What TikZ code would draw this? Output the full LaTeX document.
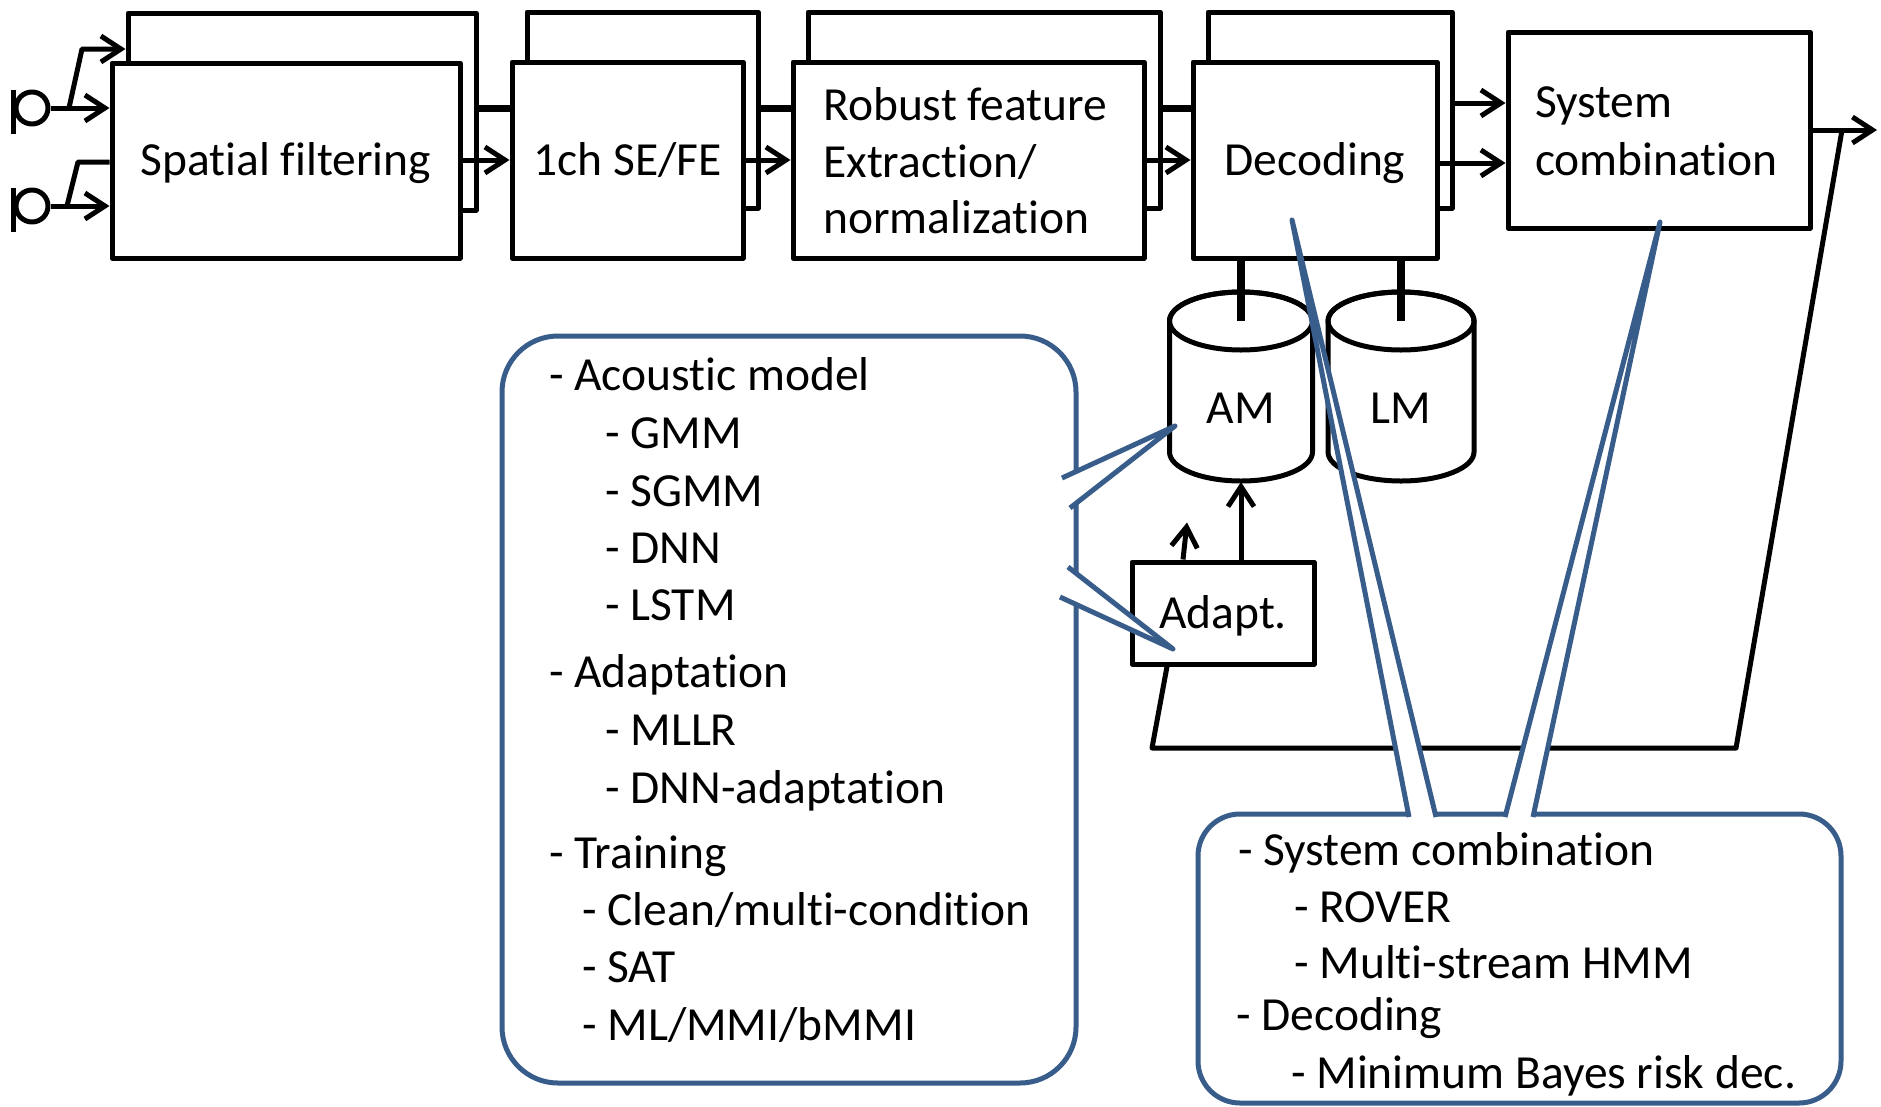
\documentclass[tikz,border=0pt]{standalone}
\usepackage{fontspec}
\setmainfont{Carlito}[Ligatures=CommonOff]
\usetikzlibrary{arrows.meta,calc}
\definecolor{callout}{HTML}{385D8A}
\begin{document}
\begin{tikzpicture}[x=1pt,y=-1pt,line join=round,
  every node/.style={font=\fontsize{47.5pt}{57pt}\selectfont},
  blk/.style={draw,line width=5pt,fill=white,inner sep=0pt,text height=30pt,text depth=0pt},
  ln/.style={line width=5pt},
  fat/.style={line width=7pt},
  arr/.style={line width=5pt,-{Straight Barb[length=20pt,width=26pt]}},
  txt/.style={inner sep=0pt},
  mic/.style={circle,draw,line width=5pt,minimum size=32pt,inner sep=0pt},
  cbox/.style={draw=callout,line width=5pt,fill=white,inner sep=0pt},
  wedge/.style={draw=callout,line width=5pt,line join=round}
]
\useasboundingbox (0,0) rectangle (1881,1106);
\fill[white] (0,0) rectangle (1881,1106);

% levels of the stage-to-stage links
\coordinate (hiA) at (0,108);
\coordinate (loA) at (0,160);
\coordinate (hiB) at (0,103);
\coordinate (loB) at (0,163);

% rear copies of the processing stages
\node[blk,minimum width=348pt,minimum height=197pt] (sfb) at (302,111.5) {};
\node[blk,minimum width=231pt,minimum height=196pt] (chb) at (642.5,110) {};
\node[blk,minimum width=352pt,minimum height=196pt] (rfb) at (984,110) {};
\node[blk,minimum width=244pt,minimum height=196pt] (decb) at (1330,110) {};

% links between the rear copies
\draw[fat] (sfb.east |- hiA) -- (chb.west |- hiA);
\draw[fat] (chb.east |- hiA) -- (rfb.west |- hiA);
\draw[fat] (rfb.east |- hiA) -- (decb.west |- hiA);

% front stages
\node[blk,minimum width=348pt,minimum height=195pt] (sff) at (286,160.5) {Spatial filtering};
\node[blk,minimum width=231pt,minimum height=196pt] (chf) at (627.5,160) {1ch SE/FE};
\node[blk,minimum width=351pt,minimum height=196pt] (rff) at (968.5,160) {};
\node[txt,anchor=base west] (rf1) at (823,120) {Robust feature};
\node[txt,anchor=base west] (rf2) at (823,177) {Extraction/};
\node[txt,anchor=base west] (rf3) at (823,233) {normalization};
\node[blk,minimum width=244pt,minimum height=196pt] (decf) at (1315,160) {Decoding};
\node[blk,minimum width=302pt,minimum height=196pt] (sc) at (1659,130) {};
\node[txt,anchor=base west] (sc1) at (1535,117) {System};
\node[txt,anchor=base west] (sc2) at (1535,175) {combination};

% microphones
\node[mic] (mic1) at (32,108) {};
\node[mic] (mic2) at (32,206) {};
\draw[ln] (mic1.west |- mic1.north) -- ++(0,44);
\draw[ln] (mic2.west |- mic2.north) -- ++(0,44);
\draw[arr] (mic1.east) -- (mic1.east -| sff.west);
\draw[arr] (mic2.east) -- (mic2.east -| sff.west);
\coordinate (k1a) at (69,108);
\coordinate (k1b) at (82,49);
\draw[arr] (k1a) -- (k1b) -- (k1b -| sfb.west);
\coordinate (k2a) at (67,206);
\coordinate (k2b) at (78,162);
\draw[ln] (k2a) -- (k2b) -- (k2b -| sff.west);

% links between the front stages
\draw[arr] (sff.east |- loA) -- (chf.west |- loA);
\draw[arr] (chf.east |- loA) -- (rff.west |- loA);
\draw[arr] (rff.east |- loA) -- (decf.west |- loA);
\draw[arr] (decb.east |- hiB) -- (sc.west |- hiB);
\draw[arr] (decf.east |- loB) -- (sc.west |- loB);
\coordinate (out) at (1877,130);
\draw[arr] (sc.east) -- (out);

% model stores
\filldraw[fill=white,ln] (1169.5,321) -- (1169.5,452)
  arc[start angle=180,end angle=0,x radius=71.5,y radius=29] -- (1312.5,321)
  arc[start angle=0,end angle=-180,x radius=71.5,y radius=29] -- cycle;
\draw[ln] (1241,321) ellipse[x radius=71.5,y radius=29];
\filldraw[fill=white,ln] (1328,321) -- (1328,452)
  arc[start angle=180,end angle=0,x radius=73,y radius=29] -- (1474,321)
  arc[start angle=0,end angle=-180,x radius=73,y radius=29] -- cycle;
\draw[ln] (1401,321) ellipse[x radius=73,y radius=29];
\node[txt,anchor=base] (am) at (1241,423) {AM};
\node[txt,anchor=base] (lm) at (1401,423) {LM};
\coordinate (amtop) at (1241,321);
\coordinate (lmtop) at (1401,321);
\coordinate (amb) at (1241,482);
\draw[line width=8pt] (decf.south -| amtop) -- (amtop);
\draw[line width=8pt] (decf.south -| lmtop) -- (lmtop);

% adaptation
\node[blk,minimum width=182pt,minimum height=102pt] (adapt) at (1223,613) {Adapt.};
\draw[arr] (adapt.north -| amb) -- (amb);
\draw[arr] ([xshift=-40pt]adapt.north) -- ++(4,-37);

% feedback from the combined output
\coordinate (fb1) at (1842,130);
\coordinate (fb2) at (1736,748);
\coordinate (fb3) at (1152,748);
\draw[ln] (fb1) -- (fb2) -- (fb3) -- ([xshift=-56pt]adapt.south);

% left note
\node[cbox,rounded corners=56pt,minimum width=574pt,minimum height=747pt] (lbox) at (789,709.5) {};
\foreach \yy/\xx/\itm [count=\i] in {390/549/Acoustic model,448/605/GMM,506/605/SGMM,
    563/605/DNN,620/605/LSTM,687/549/Adaptation,745/605/MLLR,803/605/DNN-adaptation,
    868/549/Training,925/582/{Clean/multi-condition},982/582/SAT,1040/582/{ML/MMI/bMMI}}
  \node[txt,anchor=base west] (la\i) at (\xx,\yy) {- \itm};
\coordinate (t1) at (1175,426);
\coordinate (t2) at (1173,649);
\fill[white] (1062,478) -- (t1) -- (1070,508) -- cycle;
\draw[wedge] (1062,478) -- (t1) -- (1070,508);
\fill[white] (1068,567) -- (t2) -- (1060,597) -- cycle;
\draw[wedge] (1068,567) -- (t2) -- (1060,597);

% right note
\node[cbox,rounded corners=42pt,minimum width=643pt,minimum height=289pt] (rbox) at (1519.5,958.5) {};
\foreach \yy/\xx/\itm [count=\i] in {865/1238/System combination,922/1294/ROVER,
    978/1294/Multi-stream HMM,1030/1236/Decoding,1088/1291/Minimum Bayes risk dec.}
  \node[txt,anchor=base west] (lb\i) at (\xx,\yy) {- \itm};
\coordinate (t3) at (1292,220);
\coordinate (t4) at (1660,222);
\fill[white] (1409,821) -- (t3) -- (1436,821) -- cycle;
\draw[wedge] (1409,817) -- (t3) -- (1436,817);
\fill[white] (1505,821) -- (t4) -- (1533,821) -- cycle;
\draw[wedge] (1505,817) -- (t4) -- (1533,817);
\end{tikzpicture}
\end{document}
